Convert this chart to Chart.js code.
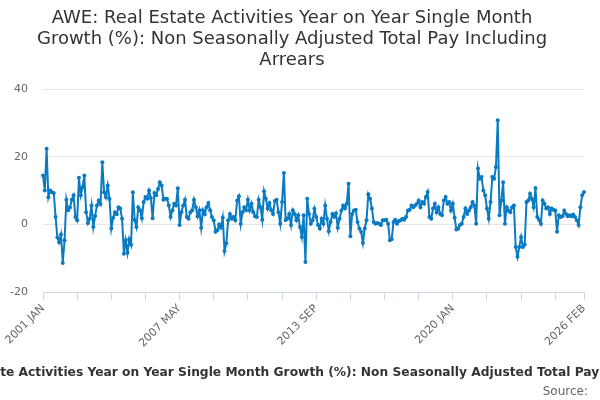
<!DOCTYPE html>
<html>
<head>
<meta charset="utf-8">
<script src="https://cdn.jsdelivr.net/npm/chart.js@4.4.1/dist/chart.umd.min.js"></script>
<style>
    html, body { margin: 0; padding: 0; background: #ffffff; }
    #awe { display: block; }
</style>
</head>
<body>
<canvas id="awe" width="600" height="400"></canvas>
<script>
// Year on year growth (%), one row per year, monthly from 2001 JAN
const growth2001to2008 = [
    14.5, 10, 22.4, 8, 10, 9.5, 9.3, 2.2, -3.9, -5.3, -3, -11.4,
    -4.7, 7.3, 4.2, 5, 7.3, 8.6, 2.2, 1.2, 13.8, 8.6, 11, 14.5,
    3.6, 0.4, 1.7, 5.6, -0.8, 2.5, 5.6, 7.1, 6, 18.4, 9.5, 8,
    11.5, 7.5, -1.2, 2, 3.6, 3, 5.1, 4.7, 1.7, -8.7, -4.7, -8.4,
    -4.3, -6, 9.5, 1.3, -0.8, 5.1, 4.2, 1.8, 6.6, 8.1, 7.6, 10,
    7.8, 1.8, 9.3, 8.6, 10.5, 12.5, 11.5, 7.3, 7.6, 7.6, 5.6, 2.2,
    4.2, 6.1, 5.6, 10.7, -0.2, 3.6, 5.6, 7.3, 2.2, 1.7, 3.6, 4.2,
    7.3, 5.1, 2.4, 4.2, -1.0, 4.2, 3, 5.1, 6.3, 4.2, 2.2, 1.2
];
const growth2009to2017 = [
    -2.2, -1.7, 0, -1, 2, -7.9, -5.6, 1.2, 3.1, 1.7, 2.2, 1.2,
    7.1, 8.3, 0.2, 3.6, 5.1, 4.2, 7.3, 4.2, 6.1, 3.6, 2.4, 2.2,
    7.3, 5.1, 1.4, 9.8, 7.6, 4.7, 6.3, 4.2, 3.1, 6.9, 7.3, 3.6,
    0.2, 6.6, 15.2, 1.3, 1.7, 3.1, -0.2, 4.2, 3.1, 1.2, 2.7, -0.8,
    -3.7, 2.7, -11.1, 7.6, 3.1, 0.2, 1.2, 4.6, 2.2, -0.2, -1.2, 1.7,
    0.2, 5.6, 1.7, -2, 0.7, 3.1, 2.2, 3.3, -1, 1.7, 4.1, 5.6,
    4.7, 6.1, 12, -3.5, 3.1, 4.1, 4.3, 0.7, -1.2, -2.2, -5.5, -1.2,
    1.2, 8.9, 7.6, 4.7, 0.7, 0.2, 0.4, 0.2, -0.2, 1.2, 1.2, 1.4,
    0.2, -4.7, -4.4, 0.7, 1.4, 0.2, 1, 1.2, 1.7, 1.4, 2.2, 4.1
];
const growth2018to2026 = [
    4.3, 5.6, 5.1, 5.6, 6.1, 7.1, 5.1, 6.6, 6.1, 8.1, 9.6, 2.2,
    1.7, 4.7, 6.1, 3.6, 5.1, 3.1, 2.7, 7.1, 8.1, 6.1, 6.6, 4.1,
    6.1, 2, -1.5, -1.2, -0.2, 0.2, 2.2, 4.7, 3.1, 4.1, 5.1, 6.6,
    5.6, 0.2, 16.5, 13.5, 14, 10, 8.6, 4.7, 1.7, 6.6, 14, 13.5,
    17, 30.8, 2.7, 7.1, 12.5, 0.2, 5.1, 4.1, 3.6, 5.1, 5.6, -6.7,
    -9.6, -6.7, -3.7, -6.7, -6.0, 6.6, 7.1, 9.1, 7.6, 5.1, 10.8, 2.2,
    1.3, 0.2, 7.1, 6.1, 4.7, 5.1, 3.1, 4.7, 4.3, 4.1, -2.2, 2.7,
    2.2, 2.4, 4.1, 3.1, 2.4, 2.7, 2.4, 2.9, 2.2, 1.2, -0.2, 5.1,
    8.6, 9.6
];

const START_YEAR = 2001;
const MONTHS = ['JAN', 'FEB', 'MAR', 'APR', 'MAY', 'JUN', 'JUL', 'AUG', 'SEP', 'OCT', 'NOV', 'DEC'];
const TICK_LABELS = ['2001 JAN', '2007 MAY', '2013 SEP', '2020 JAN', '2026 FEB'];
const Y_TICKS = [-20, 0, 20, 40];

const TITLE = [
    'AWE: Real Estate Activities Year on Year Single Month',
    'Growth (%): Non Seasonally Adjusted Total Pay Including',
    'Arrears'
];
const AXIS_TITLE = 'AWE: Real Estate Activities Year on Year Single Month Growth (%): Non Seasonally Adjusted Total Pay Including Arrears';
const SOURCE = 'Source:';

const values = growth2001to2008.concat(growth2009to2017, growth2018to2026);
const labels = values.map((_, i) => `${START_YEAR + Math.floor(i / 12)} ${MONTHS[i % 12]}`);

const TICK_EVERY = 19;
const tickColor = (c) => (c.index % TICK_EVERY === 0 || c.index === values.length - 1) ? '#ccd6eb' : 'rgba(0,0,0,0)';

// axis title and source are drawn by hand so the long title can overflow like the original
const bottomTexts = {
    id: 'bottomTexts',
    afterDraw(chart) {
        const { ctx, chartArea } = chart;
        ctx.save();
        ctx.textBaseline = 'middle';
        ctx.fillStyle = '#333333';
        ctx.font = 'bold 12.25px "DejaVu Sans"';
        ctx.textAlign = 'center';
        ctx.fillText(AXIS_TITLE, (chartArea.left + chartArea.right) / 2 - 4, chartArea.bottom + 81);
        ctx.fillStyle = '#666666';
        ctx.font = '12px "DejaVu Sans"';
        ctx.textAlign = 'right';
        ctx.fillText(SOURCE, 588, chartArea.bottom + 100);
        ctx.restore();
    }
};

Chart.defaults.font.family = '"DejaVu Sans", sans-serif';

new Chart(document.getElementById('awe'), {
    type: 'line',
    data: {
        labels: labels,
        datasets: [{
            data: values,
            borderColor: '#0a7bc2',
            backgroundColor: '#0a7bc2',
            borderWidth: 2,
            pointRadius: 2,
            pointBorderWidth: 0,
            tension: 0
        }]
    },
    options: {
        responsive: false,
        animation: false,
        layout: { padding: { left: 0, right: 16, top: 0, bottom: 16 } },
        plugins: {
            legend: { display: false },
            tooltip: { enabled: false },
            title: {
                display: true,
                text: TITLE,
                color: '#333333',
                font: { size: 18, weight: 'normal', lineHeight: 1.17 },
                padding: { top: 8, bottom: 18 }
            }
        },
        scales: {
            x: {
                grid: {
                    drawOnChartArea: false,
                    drawTicks: true,
                    tickLength: 8,
                    color: tickColor,
                    tickColor: tickColor
                },
                border: { color: '#ccd6eb', width: 1 },
                ticks: {
                    autoSkip: false,
                    minRotation: 45,
                    maxRotation: 45,
                    padding: 2,
                    color: '#666666',
                    font: { size: 11 },
                    callback: function (value) {
                        const label = this.getLabelForValue(value);
                        return TICK_LABELS.includes(label) ? label : '';
                    }
                },
                afterFit: (scale) => { scale.height = 92; }
            },
            y: {
                min: Y_TICKS[0],
                max: Y_TICKS[Y_TICKS.length - 1],
                grid: { color: '#e6e6e6', drawTicks: false },
                border: { display: false },
                ticks: {
                    stepSize: 20,
                    padding: 15,
                    color: '#666666',
                    font: { size: 11 }
                },
                afterFit: (scale) => { scale.width = 43; }
            }
        }
    },
    plugins: [bottomTexts]
});
</script>
</body>
</html>
